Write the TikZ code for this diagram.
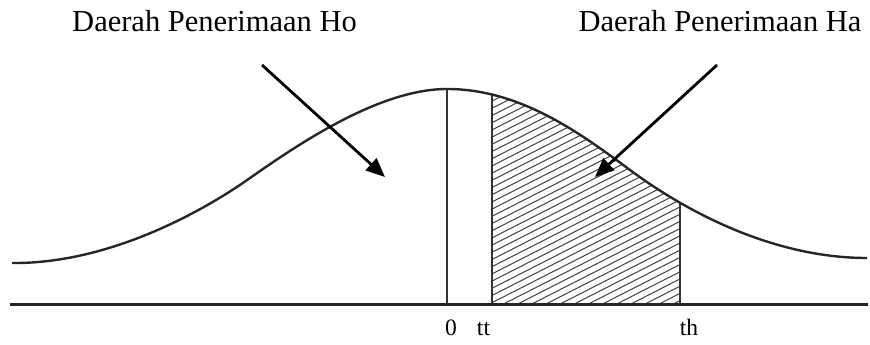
\documentclass[tikz,border=0pt]{standalone}
\usepackage{fontspec}
\setmainfont{Liberation Serif}
\usetikzlibrary{arrows.meta}
\begin{document}
\begin{tikzpicture}[x=1pt,y=-1pt,
  curveline/.style={line width=2.4pt, black!85},
  axisline/.style={line width=3pt, black!85},
  vline/.style={line width=2.2pt, black!80},
  hatchline/.style={line width=1pt, black!75},
  pointer/.style={line width=2.8pt, -{Triangle[length=19pt,width=16pt]}},
  bigtext/.style={font=\fontsize{30.5}{36}\selectfont, anchor=base, inner sep=0pt},
  smalltext/.style={font=\fontsize{23.5}{28}\selectfont, anchor=base, inner sep=0pt}]
\useasboundingbox (0,0) rectangle (870,345);
\def\bell{(12,263) .. controls (110,264) and (205,210) .. (250,178)
  .. controls (300,143) and (380,89) .. (447,89)
  .. controls (520,89) and (580,133) .. (630,170)
  .. controls (695,218) and (780,258) .. (867,258)}
% hatching and vertical lines, clipped under the curve
\begin{scope}
  \clip \bell -- (867,320) -- (12,320) -- cycle;
  \begin{scope}
    \clip (492,80) rectangle (680,304);
    \foreach \k in {0,...,60} {
      \draw[hatchline] (480,{100+7.2*\k}) -- (700,{100+7.2*\k-112});
    }
  \end{scope}
  \coordinate (z0) at (447,304); \coordinate (z1) at (447,80);
  \coordinate (t0) at (492,304); \coordinate (t1) at (492,80);
  \coordinate (h0) at (680,304); \coordinate (h1) at (680,80);
  \draw[vline] (z0) -- (z1);
  \draw[vline] (t0) -- (t1);
  \draw[vline] (h0) -- (h1);
\end{scope}
% curve
\draw[curveline] \bell;
% axis
\coordinate (axl) at (10,304);
\coordinate (axr) at (868,304);
\draw[axisline] (axl) -- (axr);
% labels
\node[bigtext] (ho) at (214.5,32) {Daerah Penerimaan Ho};
\node[bigtext] (ha) at (720,32) {Daerah Penerimaan Ha};
\node[smalltext] (l0) at (451,335) {0};
\node[smalltext] (ltt) at (483.5,335) {tt};
\node[smalltext] (lth) at (689,335) {th};
% arrows
\coordinate (a1s) at (262,65); \coordinate (a1e) at (385,177);
\coordinate (a2s) at (717,65); \coordinate (a2e) at (595,177);
\draw[pointer] (a1s) -- (a1e);
\draw[pointer] (a2s) -- (a2e);
\end{tikzpicture}
\end{document}
